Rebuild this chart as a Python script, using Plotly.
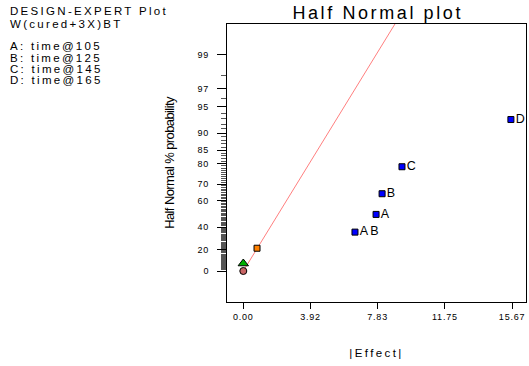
import numpy as np
import plotly.graph_objects as go
from statistics import NormalDist

nd = NormalDist()

def hn(p):
    # half-normal probability (percent) -> z score
    return nd.inv_cdf(0.5 + p / 200.0)

def sp(t, ls):
    return f'<span style="letter-spacing:{ls}px">{t}</span>'

# Data
effect_labels = ["AB", "A", "B", "C", "D"]
effect_values = [6.51, 7.74, 8.09, 9.25, 15.60]
effect_probs = [35.7, 50.0, 64.3, 78.6, 92.9]

error_values = [0.0, 0.80]
error_probs = [7.1, 21.4]
zero_value = [0.0]
zero_prob = [0.0]

line_x = [0.0, 10.0]
line_slope = 0.333

x_ticks = [0.00, 3.92, 7.83, 11.75, 15.67]
y_major = [0, 20, 40, 60, 70, 80, 85, 90, 95, 97, 99]
y_minor = list(range(1, 99))

legend_lines = ["DESIGN-EXPERT Plot", "W(cured+3X)BT", "A: time@105",
                "B: time@125", "C: time@145", "D: time@165"]
legend_py = [11, 24, 46, 57.5, 69, 80.5]

fig = go.Figure()

fig.add_trace(go.Scatter(
    x=line_x, y=[line_slope * v for v in line_x], mode="lines",
    line=dict(color="#ff7f7f", width=1), hoverinfo="skip"))

fig.add_trace(go.Scatter(
    x=zero_value, y=[hn(p) for p in zero_prob], mode="markers",
    marker=dict(symbol="circle", size=7, color="#c86464",
                line=dict(color="black", width=1))))

fig.add_trace(go.Scatter(
    x=[error_values[0]], y=[hn(error_probs[0])], mode="markers",
    marker=dict(symbol="triangle-up", size=9, color="#00b000",
                line=dict(color="black", width=1))))

fig.add_trace(go.Scatter(
    x=[error_values[1]], y=[hn(error_probs[1])], mode="markers",
    marker=dict(symbol="square", size=6, color="#ff8000",
                line=dict(color="black", width=1))))

fig.add_trace(go.Scatter(
    x=effect_values, y=[hn(p) for p in effect_probs], mode="markers+text",
    text=[sp(t, 2.3) for t in effect_labels], textposition="middle right",
    textfont=dict(family="Liberation Sans, Arial", size=12.5, color="black"),
    marker=dict(symbol="square", size=6, color="#0000ff",
                line=dict(color="black", width=1)),
    cliponaxis=False))

fig.update_layout(
    width=529, height=366,
    margin=dict(l=227, r=3, t=24, b=64),
    plot_bgcolor="white", paper_bgcolor="white",
    showlegend=False,
    font=dict(family="Liberation Sans, Arial", color="black"),
    title=dict(text=sp("Half Normal plot", 2.6), x=0.714, xanchor="center",
               y=0.982, yanchor="top",
               font=dict(size=18, color="black")),
)

fig.update_xaxes(
    range=[-0.95, 16.48], showgrid=False, zeroline=False,
    showline=True, linecolor="black", linewidth=1, mirror=True,
    tickmode="array", tickvals=x_ticks,
    ticktext=[sp(f"{v:.2f}", 0.8) for v in x_ticks],
    ticks="outside", ticklen=6, tickcolor="black",
    tickfont=dict(size=9),
    title=dict(text=sp("|Effect|", 2.4), font=dict(size=11.5), standoff=28),
)

fig.update_yaxes(
    range=[-0.3695, 2.944], showgrid=False, zeroline=False,
    showline=True, linecolor="black", linewidth=1, mirror=True,
    tickmode="array", tickvals=[hn(p) for p in y_major],
    ticktext=[sp(str(p), 0.8) for p in y_major],
    ticks="outside", ticklen=9, tickcolor="black",
    ticklabelstandoff=6,
    tickfont=dict(size=9),
    minor=dict(tickmode="array", tickvals=[hn(p) for p in y_minor],
               ticks="outside", ticklen=5, tickcolor="#555", tickwidth=1),
    title=dict(text=sp("Half Normal % probability", -0.6), font=dict(size=13),
               standoff=20),
)

for t, py in zip(legend_lines, legend_py):
    fig.add_annotation(
        text=sp(t, 2.3), xref="paper", yref="paper", showarrow=False,
        x=(8 - 227) / 299, xanchor="left",
        y=(302 - py) / 278, yanchor="middle",
        font=dict(size=11.5, color="black"))

fig.write_html("out.html")
